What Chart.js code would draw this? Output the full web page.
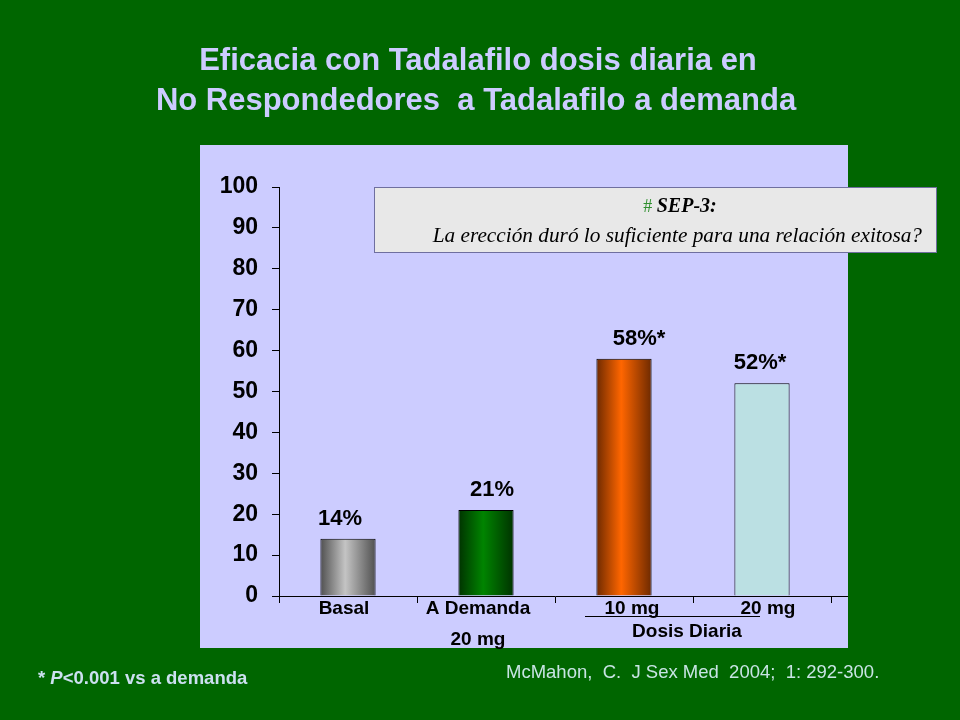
<!DOCTYPE html>
<html>
<head>
<meta charset="utf-8">
<title>Eficacia con Tadalafilo dosis diaria</title>
<script src="https://cdn.jsdelivr.net/npm/chart.js@4.4.1/dist/chart.umd.min.js"></script>
<style>
  html, body { margin: 0; padding: 0; background: #006600; }
  #wrap { position: relative; width: 960px; height: 720px; }
</style>
</head>
<body>
<div id="wrap"><canvas id="chart" width="960" height="720"></canvas></div>
<script>
// data
var categories = ['Basal', 'A Demanda', '10 mg', '20 mg'];
var subLabels = ['', '20 mg', '', ''];
var values = [14, 21, 58, 52];
var valueLabels = ['14%', '21%', '58%*', '52%*'];
var yTicks = [0, 10, 20, 30, 40, 50, 60, 70, 80, 90, 100];

var titleLines = ['Eficacia con Tadalafilo dosis diaria en', 'No Respondedores  a Tadalafilo a demanda'];
var groupLabel = 'Dosis Diaria';
var boxHead = 'SEP-3:';
var boxText = 'La erección duró lo suficiente para una relación exitosa?';
var footnote = ['* ', 'P', '<0.001 vs a demanda'];
var citation = 'McMahon,  C.  J Sex Med  2004;  1: 292-300.';

// edge, centre colours for the shaded bars (last one is flat)
var barShades = [
  ['#505050', '#c4c4c4'],
  ['#003300', '#008400'],
  ['#6e2a00', '#ff6600'],
  ['#bbe0e3', '#bbe0e3']
];

// small horizontal nudges of the hand-placed slide text, px
var valueNudge = [-8, 6, 15, -2];
var catNudge = [-4, -8, 8, 6];

var SANS = '"Liberation Sans", Arial, sans-serif';
var SERIF = '"Liberation Serif", "Times New Roman", serif';
var BAR_PCT = 0.4;

function barFill(ctx) {
  var chart = ctx.chart;
  var i = ctx.dataIndex;
  if (!chart.chartArea || i === undefined) return barShades[0][1];
  var xs = chart.scales.x;
  var cx = xs.getPixelForValue(i);
  var half = (chart.chartArea.width / categories.length) * BAR_PCT / 2;
  var g = chart.ctx.createLinearGradient(cx - half, 0, cx + half, 0);
  g.addColorStop(0, barShades[i][0]);
  g.addColorStop(0.45, barShades[i][1]);
  g.addColorStop(1, barShades[i][0]);
  return g;
}

var slidePlugin = {
  id: 'slide',
  beforeDraw: function (chart) {
    var c = chart.ctx;
    c.save();
    c.fillStyle = '#006600';
    c.fillRect(0, 0, chart.width, chart.height);
    c.fillStyle = '#ccccff';
    c.fillRect(200, 145, 648, 503);
    c.restore();
  },
  afterDraw: function (chart) {
    var c = chart.ctx;
    var xs = chart.scales.x;
    var area = chart.chartArea;
    var meta = chart.getDatasetMeta(0);
    c.save();

    // title
    c.fillStyle = '#ccccff';
    c.textAlign = 'center';
    c.textBaseline = 'alphabetic';
    c.font = 'bold 31px ' + SANS;
    c.fillText(titleLines[0], 478, 70);
    c.fillText(titleLines[1], 476, 110);

    // x axis line runs on to the panel edge
    c.strokeStyle = '#000';
    c.lineWidth = 1;
    c.beginPath();
    c.moveTo(area.right, area.bottom + 0.5);
    c.lineTo(848, area.bottom + 0.5);
    c.stroke();

    // value labels over the bars
    c.fillStyle = '#000';
    c.font = 'bold 22px ' + SANS;
    meta.data.forEach(function (bar, i) {
      c.fillText(valueLabels[i], bar.x + valueNudge[i], bar.y - 14);
    });

    // category labels
    c.font = 'bold 19px ' + SANS;
    categories.forEach(function (lab, i) {
      var x = xs.getPixelForValue(i) + catNudge[i];
      c.fillText(lab, x, 614);
      if (subLabels[i]) c.fillText(subLabels[i], x, 645);
    });

    // group bracket under the daily doses
    c.beginPath();
    c.moveTo(585, 616.5);
    c.lineTo(760, 616.5);
    c.stroke();
    c.fillText(groupLabel, (xs.getPixelForValue(2) + xs.getPixelForValue(3)) / 2 - 6, 637);

    // SEP-3 box
    c.fillStyle = '#e8e8e8';
    c.fillRect(374, 187, 563, 66);
    c.strokeStyle = '#6f6f9f';
    c.strokeRect(374.5, 187.5, 562, 65);
    c.font = 'bold italic 20px ' + SERIF;
    var headW = c.measureText(boxHead).width;
    c.font = '18px ' + SERIF;
    var hashW = c.measureText('# ').width;
    var hx = 680 - (headW + hashW) / 2;
    c.textAlign = 'left';
    c.fillStyle = '#2f8f2f';
    c.fillText('# ', hx, 212);
    c.fillStyle = '#000';
    c.font = 'bold italic 20px ' + SERIF;
    c.fillText(boxHead, hx + hashW, 212);
    c.font = 'italic 21.3px ' + SERIF;
    c.textAlign = 'right';
    c.fillText(boxText, 922, 242);

    // footnote and reference
    c.textAlign = 'left';
    c.fillStyle = '#cce0f0';
    var fx = 38;
    c.font = 'bold 18.5px ' + SANS;
    c.fillText(footnote[0], fx, 684);
    fx += c.measureText(footnote[0]).width;
    c.font = 'bold italic 18.5px ' + SANS;
    c.fillText(footnote[1], fx, 684);
    fx += c.measureText(footnote[1]).width;
    c.font = 'bold 18.5px ' + SANS;
    c.fillText(footnote[2], fx, 684);

    c.fillStyle = '#c8e4e4';
    c.font = '18.5px ' + SANS;
    c.fillText(citation, 506, 678);
    c.restore();
  }
};

var chart = new Chart(document.getElementById('chart'), {
  type: 'bar',
  data: {
    labels: categories,
    datasets: [{
      data: values,
      backgroundColor: barFill,
      borderColor: '#000',
      borderWidth: 1,
      borderSkipped: 'bottom',
      barPercentage: BAR_PCT,
      categoryPercentage: 1
    }]
  },
  options: {
    responsive: false,
    devicePixelRatio: 1,
    animation: false,
    layout: { padding: { left: 200, right: 129, top: 187, bottom: 74 } },
    plugins: { legend: { display: false }, tooltip: { enabled: false } },
    scales: {
      x: {
        offset: true,
        grid: { offset: true, drawOnChartArea: false, tickLength: 7, color: '#000' },
        border: { color: '#000', width: 1 },
        ticks: { display: false },
        afterFit: function (s) { s.height = 50; }
      },
      y: {
        min: 0,
        max: 100,
        afterBuildTicks: function (s) { s.ticks = yTicks.map(function (v) { return { value: v }; }); },
        grid: { drawOnChartArea: false, tickLength: 7, color: '#000' },
        border: { color: '#000', width: 1 },
        ticks: {
          color: '#000',
          padding: 14,
          font: { family: SANS, size: 23, weight: 'bold' }
        },
        afterFit: function (s) { s.width = 79; }
      }
    }
  },
  plugins: [slidePlugin]
});
</script>
</body>
</html>
